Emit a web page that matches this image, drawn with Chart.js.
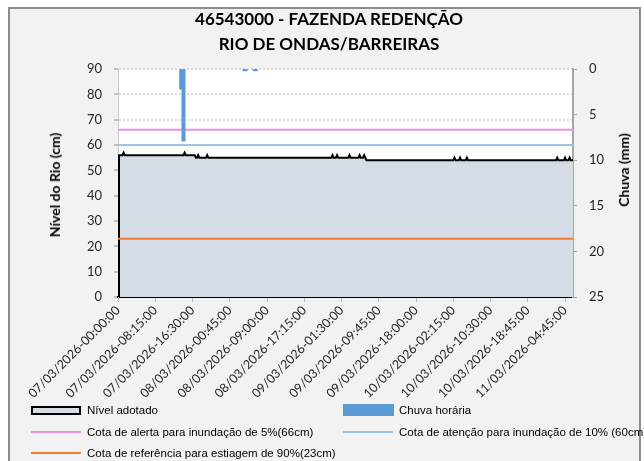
<!DOCTYPE html>
<html lang="pt">
<head>
<meta charset="UTF-8">
<title>46543000 - FAZENDA REDENÇÃO</title>
<script src="https://cdn.jsdelivr.net/npm/chart.js"></script>
<style>
    html, body { margin: 0; padding: 0; background: #fff; }
    body { width: 644px; height: 461px; overflow: hidden; position: relative; font-family: Lato, sans-serif; }
    .frame { position: absolute; left: 8px; top: 7px; width: 629px; height: 470px; background: #F2F2F2; border: 2px solid #8C8C8C; }
    #chart { position: absolute; left: 0; top: 0; }
    .title { position: absolute; left: 0; width: 658px; text-align: center; font-weight: 700; font-size: 17px; line-height: 20px; color: #000; }
    .axis-title { position: absolute; font-weight: 700; font-size: 14px; line-height: 16px; color: #000; white-space: nowrap; transform: translate(-50%, -50%) rotate(-90deg); }
    .legend-item { position: absolute; font-family: "Liberation Sans", Arial, sans-serif; font-size: 11.5px; line-height: 14px; color: #000; white-space: nowrap; }
    .legend-item .sym { position: absolute; left: 0; }
    .legend-item span { position: absolute; left: 56px; top: 0; }
</style>
</head>
<body>
<div class="frame"></div>
<canvas id="chart" width="644" height="461"></canvas>
<div class="title" style="top: 9px;">46543000 - FAZENDA REDENÇÃO</div>
<div class="title" style="top: 34px;">RIO DE ONDAS/BARREIRAS</div>
<div class="axis-title" style="left: 55px; top: 185px;">Nível do Rio (cm)</div>
<div class="axis-title" style="left: 624px; top: 170px;">Chuva (mm)</div>
<div id="legend"></div>
<script>
    // rótulos do eixo x (um a cada 33 leituras de 15 min)
    const tickLabels = ['07/03/2026-00:00:00', '07/03/2026-08:15:00', '07/03/2026-16:30:00',
        '08/03/2026-00:45:00', '08/03/2026-09:00:00', '08/03/2026-17:15:00', '09/03/2026-01:30:00',
        '09/03/2026-09:45:00', '09/03/2026-18:00:00', '10/03/2026-02:15:00', '10/03/2026-10:30:00',
        '10/03/2026-18:45:00', '11/03/2026-04:45:00'];
    const tickStep = 33;
    const lastReading = 403;

    // nível adotado (cm): índice da leitura e valor
    const levelIdx = [0, 4, 5, 6, 58, 59, 60, 68, 69, 70, 71, 72, 78, 79, 80,
        189, 190, 191, 193, 194, 195, 204, 205, 206, 213, 214, 215, 217, 218, 219, 220,
        297, 298, 299, 302, 303, 304, 308, 309, 310, 388, 389, 390, 395, 396, 397, 399, 400, 401, 403];
    const levelVal = [56, 56, 57, 56, 56, 57, 56, 56, 55, 55, 56, 55, 55, 56, 55,
        55, 56, 55, 55, 56, 55, 55, 56, 55, 55, 56, 55, 55, 56, 55, 54,
        54, 55, 54, 54, 55, 54, 54, 55, 54, 54, 55, 54, 54, 55, 54, 54, 55, 54, 54];

    // chuva horária (mm)
    const rainIdx = [55, 56, 57, 58, 59, 111, 112, 113, 114, 120, 121, 122, 123];
    const rainVal = [2.2, 2.2, 7.9, 7.9, 7.9, 0.2, 0.2, 0.2, 0.2, 0.2, 0.2, 0.2, 0.2];

    // cotas de referência (cm)
    const cotaAlerta = 66;
    const cotaAtencao = 60;
    const cotaEstiagem = 23;

    const toPoints = (xs, ys) => xs.map((x, i) => ({ x: x, y: ys[i] }));
    const flat = (v) => [{ x: 0, y: v }, { x: lastReading, y: v }];

    const tickFont = { family: 'Lato', size: 13 };

    const plotBg = {
        id: 'plotBg',
        beforeDraw(chart) {
            const { ctx, chartArea: a } = chart;
            ctx.save();
            ctx.fillStyle = '#FFFFFF';
            ctx.fillRect(a.left, a.top, a.right - a.left, a.bottom - a.top);
            ctx.restore();
        }
    };

    // contorno esquerdo da área (como no Excel)
    const areaEdge = {
        id: 'areaEdge',
        afterDatasetDraw(chart, args) {
            if (args.index !== 0) return;
            const p = args.meta.data[0];
            const base = chart.scales.y.getPixelForValue(0);
            const ctx = chart.ctx;
            ctx.save();
            ctx.strokeStyle = '#000';
            ctx.lineWidth = 2;
            ctx.beginPath();
            ctx.moveTo(p.x + 1, p.y);
            ctx.lineTo(p.x + 1, base);
            ctx.stroke();
            ctx.restore();
        }
    };

    const chart = new Chart(document.getElementById('chart'), {
        data: {
            datasets: [
                {
                    type: 'line', label: 'Nível adotado', data: toPoints(levelIdx, levelVal),
                    yAxisID: 'y', borderColor: '#000', borderWidth: 2, backgroundColor: '#D6DCE5',
                    fill: 'origin', pointRadius: 0, tension: 0, order: 10
                },
                {
                    type: 'bar', label: 'Chuva horária', data: toPoints(rainIdx, rainVal),
                    yAxisID: 'y1', backgroundColor: '#5B9BD5', borderWidth: 0,
                    barPercentage: 1, categoryPercentage: 1, order: 0
                },
                {
                    type: 'line', label: 'Cota de alerta para inundação de 5%(66cm)', data: flat(cotaAlerta),
                    yAxisID: 'y', borderColor: '#E88FE9', borderWidth: 2, pointRadius: 0, fill: false, order: 5
                },
                {
                    type: 'line', label: 'Cota de atenção para inundação de 10% (60cm)', data: flat(cotaAtencao),
                    yAxisID: 'y', borderColor: '#9DC3E6', borderWidth: 2, pointRadius: 0, fill: false, order: 5
                },
                {
                    type: 'line', label: 'Cota de referência para estiagem de 90%(23cm)', data: flat(cotaEstiagem),
                    yAxisID: 'y', borderColor: '#ED7D31', borderWidth: 2, pointRadius: 0, fill: false, order: 5
                }
            ]
        },
        options: {
            responsive: false,
            animation: false,
            layout: { padding: { top: 69, left: 0, right: 0, bottom: 0 } },
            plugins: { legend: { display: false }, tooltip: { enabled: false }, title: { display: false } },
            scales: {
                x: {
                    type: 'linear', min: 0, max: lastReading, offset: false,
                    afterBuildTicks(scale) {
                        scale.ticks = tickLabels.map((_, i) => ({ value: i * tickStep }));
                    },
                    afterFit(scale) { scale.height = 164; },
                    ticks: {
                        autoSkip: false, minRotation: 45, maxRotation: 45, padding: 1,
                        color: '#262626', font: { family: 'Lato', size: 12.5 },
                        callback: (v) => tickLabels[Math.round(v / tickStep)]
                    },
                    grid: { drawOnChartArea: false, offset: false, tickLength: 5, color: '#BFBFBF' },
                    border: { color: '#000', width: 2 }
                },
                y: {
                    position: 'left', min: 0, max: 90,
                    afterFit(scale) { scale.width = 118; },
                    ticks: { stepSize: 10, padding: 12, color: '#262626', font: tickFont },
                    grid: { color: '#D9D9D9', lineWidth: 2, tickLength: 4, tickColor: '#BFBFBF' },
                    border: { color: '#C8C8C8', width: 1, dash: [2, 2] }
                },
                y1: {
                    position: 'right', min: 0, max: 25, reverse: true,
                    afterFit(scale) { scale.width = 71; },
                    ticks: { stepSize: 5, padding: 12, color: '#262626', font: tickFont },
                    grid: { drawOnChartArea: false, tickLength: 4, color: '#A6A6A6' },
                    border: { color: '#A6A6A6', width: 2 }
                }
            }
        },
        plugins: [plotBg, areaEdge]
    });

    // legenda em duas colunas, como no original (a segunda é cortada pela borda)
    const legendPos = [[31, 403], [343, 403], [31, 425], [343, 425], [31, 446]];
    const legendBox = document.getElementById('legend');
    chart.data.datasets.forEach((ds, i) => {
        const item = document.createElement('div');
        item.className = 'legend-item';
        item.style.left = legendPos[i][0] + 'px';
        item.style.top = legendPos[i][1] + 'px';
        const sym = document.createElement('div');
        sym.className = 'sym';
        if (ds.type === 'bar') {
            sym.style.cssText = 'top:1px;width:51px;height:12px;background:' + ds.backgroundColor;
        } else if (ds.fill) {
            sym.style.cssText = 'top:3px;width:46px;height:5px;background:' + ds.backgroundColor + ';border:2px solid #000';
        } else {
            sym.style.cssText = 'top:6px;width:50px;height:2px;background:' + ds.borderColor;
        }
        const txt = document.createElement('span');
        txt.textContent = ds.label;
        item.appendChild(sym);
        item.appendChild(txt);
        legendBox.appendChild(item);
    });
</script>
</body>
</html>
